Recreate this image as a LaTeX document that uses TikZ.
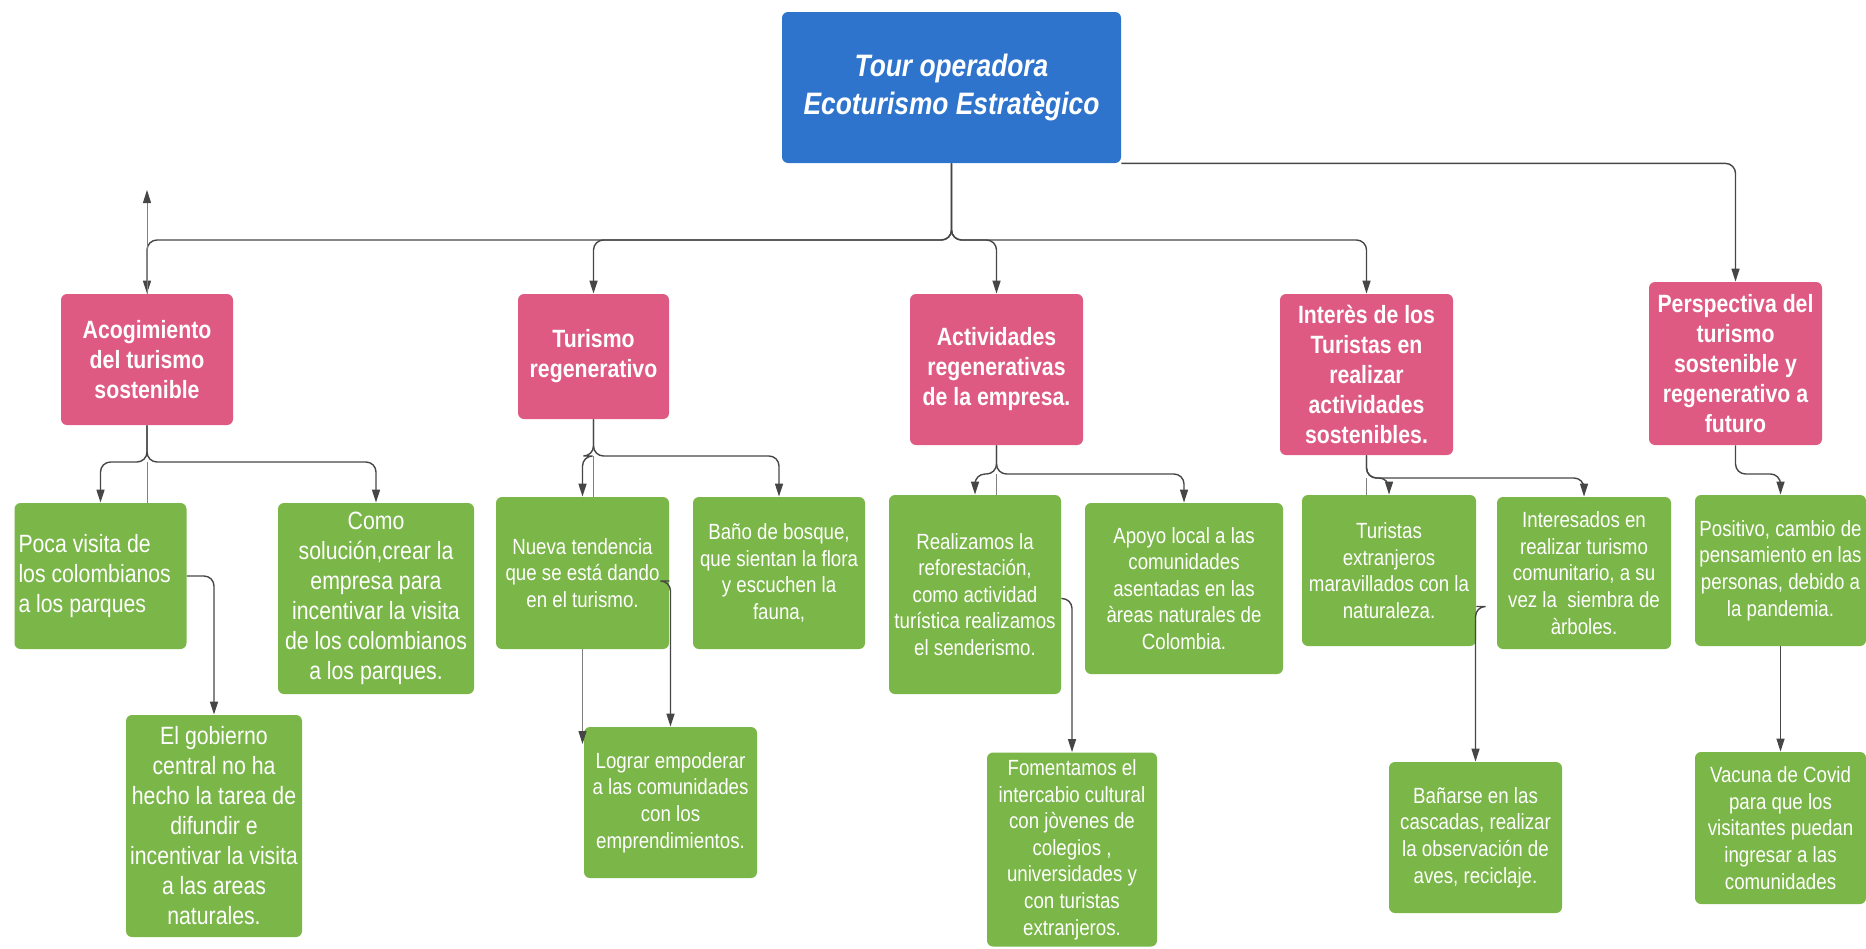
\documentclass[tikz,border=0pt]{standalone}
\usepackage{fontspec}
\setmainfont{Liberation Sans}[FakeStretch=0.85]
\usetikzlibrary{arrows.meta}
\definecolor{rootblue}{RGB}{46,116,204}
\definecolor{topicpink}{RGB}{222,90,130}
\definecolor{leafgreen}{RGB}{122,182,72}
\definecolor{linegray}{RGB}{70,70,70}

\begin{document}
\begin{tikzpicture}[x=0.5pt, y=-0.5pt]
    \tikzset{box/.style={rounded corners=3pt, text=white, align=center, inner sep=2pt},
        wh/.style 2 args={minimum width=#1, minimum height=#2},
        rootbox/.style={box, fill=rootblue, font=\bfseries\itshape\fontsize{15.5}{19}\selectfont},
        topic/.style={box, fill=topicpink, font=\bfseries\fontsize{12.5}{15}\selectfont},
        leaf/.style={box, fill=leafgreen, font=\fontsize{11}{13.3}\selectfont},
        bigleaf/.style={leaf, font=\fontsize{12.5}{15}\selectfont},
        link/.style={draw=linegray, line width=0.7pt, rounded corners=5pt,
            -{Triangle[length=6.5pt,width=4pt,color=linegray]}},
        thinlink/.style={link, draw=gray, line width=0.5pt},
        plain/.style={draw=gray, line width=0.5pt}}
    \useasboundingbox (0,0) rectangle (1866,948);

    \node[rootbox, wh={169.5pt}{75.5pt}] (root) at (951.5,87.5) {Tour operadora\\Ecoturismo Estratègico};

    \node[topic, wh={86pt}{65.5pt}] (acog) at (147,359.5) {Acogimiento\\del turismo\\sostenible};
    \node[topic, wh={75.5pt}{62.5pt}] (treg) at (593.5,356.5) {Turismo\\regenerativo};
    \node[topic, wh={86.5pt}{75.5pt}] (activ) at (996.5,369.5) {Actividades\\regenerativas\\de la empresa.};
    \node[topic, wh={86.5pt}{80.5pt}] (inter) at (1366.5,374.5) {Interès de los\\Turistas en\\realizar\\actividades\\sostenibles.};
    \node[topic, wh={86.5pt}{81.5pt}] (persp) at (1735.5,363.5) {Perspectiva del\\turismo\\sostenible y\\regenerativo a\\futuro};

    \node[bigleaf, align=flush left, text width=82pt, minimum height=73pt] (poca) at (100.5,576) {Poca visita de\\los colombianos\\a los parques};
    \node[bigleaf, wh={98pt}{95.5pt}] (como) at (376,598.5) {Como\\solución,crear la\\empresa para\\incentivar la visita\\de los colombianos\\a los parques.};
    \node[bigleaf, wh={88pt}{111pt}] (gob) at (214,826) {El gobierno\\central no ha\\hecho la tarea de\\difundir e\\incentivar la visita\\a las areas\\naturales.};
    \node[leaf, wh={86.5pt}{76pt}] (nueva) at (582.5,573) {Nueva tendencia\\que se está dando\\en el turismo.};
    \node[leaf, wh={86pt}{76pt}] (bano) at (779,573) {Baño de bosque,\\que sientan la flora\\y escuchen la\\fauna,};
    \node[leaf, wh={86.5pt}{75.5pt}] (lograr) at (670.5,802.5) {Lograr empoderar\\a las comunidades\\con los\\emprendimientos.};
    \node[leaf, wh={86pt}{99.5pt}] (realiz) at (975,594.5) {Realizamos la\\reforestación,\\como actividad\\turística realizamos\\el senderismo.};
    \node[leaf, wh={99pt}{85.5pt}] (apoyo) at (1184,588.5) {Apoyo local a las\\comunidades\\asentadas en las\\àreas naturales de\\Colombia.};
    \node[leaf, wh={85pt}{97pt}] (foment) at (1072,849.5) {Fomentamos el\\intercabio cultural\\con jòvenes de\\colegios ,\\universidades y\\con turistas\\extranjeros.};
    \node[leaf, wh={87pt}{75.5pt}] (turext) at (1389,570.5) {Turistas\\extranjeros\\maravillados con la\\naturaleza.};
    \node[leaf, wh={87pt}{76pt}] (interes) at (1584,573) {Interesados en\\realizar turismo\\comunitario, a su\\vez la \ siembra de\\àrboles.};
    \node[leaf, wh={86.5pt}{75.5pt}] (banarse) at (1475.5,837.5) {Bañarse en las\\cascadas, realizar\\la observación de\\aves, reciclaje.};
    \node[leaf, wh={85.5pt}{75.5pt}] (posit) at (1780.5,570.5) {Positivo, cambio de\\pensamiento en las\\personas, debido a\\la pandemia.};
    \node[leaf, wh={85.5pt}{76pt}] (vacuna) at (1780.5,828) {Vacuna de Covid\\para que los\\visitantes puedan\\ingresar a las\\comunidades};

    \coordinate (hub) at (951.5,240);
    \coordinate (upend) at (147,190);
    \coordinate (acoghub) at (147,462);
    \coordinate (treghub) at (593.5,456);
    \coordinate (activhub) at (996.5,474);
    \coordinate (interhub) at (1366.5,478);
    \coordinate (persphub) at (1735.5,474);
    \coordinate (nuevaend) at (582.5,744);

    \draw[link] (root.south) -- (hub) -| (acog.north);
    \draw[link] (root.south) -- (hub) -| (treg.north);
    \draw[link] (root.south) -- (hub) -| (activ.north);
    \draw[link] (root.south) -- (hub) -| (inter.north);
    \draw[link] (root.south east) -| (persp.north);
    \draw[thinlink] (acog.north) -- (upend);

    \draw[link] (acog.south) -- (acoghub) -| (poca.north);
    \draw[link] (acog.south) -- (acoghub) -| (como.north);
    \draw[plain] (acoghub) -- (acoghub |- poca.north);
    \draw[link] (poca.east) -| (gob.north);

    \draw[link] (treg.south) -- (treghub) -| (nueva.north);
    \draw[link] (treg.south) -- (treghub) -| (bano.north);
    \draw[plain] (treghub) -- (treghub |- nueva.north);
    \draw[thinlink] (nueva.south) -- (nuevaend);
    \draw[link] ([yshift=-4pt]nueva.east) -| (lograr.north);

    \draw[link] (activ.south) -- (activhub) -| (realiz.north);
    \draw[link] (activ.south) -- (activhub) -| (apoyo.north);
    \draw[plain] (activhub) -- (activhub |- realiz.north);
    \draw[link] ([yshift=-2pt]realiz.east) -| (foment.north);

    \draw[link] (inter.south) -- (interhub) -| (turext.north);
    \draw[link] (inter.south) -- (interhub) -| (interes.north);
    \draw[plain] (interhub) -- (interhub |- turext.north);
    \draw[link] ([yshift=-18pt]turext.east) -| (banarse.north);

    \draw[link] (persp.south) -- (persphub) -| (posit.north);
    \draw[link] (posit) -- (vacuna);
\end{tikzpicture}
\end{document}
